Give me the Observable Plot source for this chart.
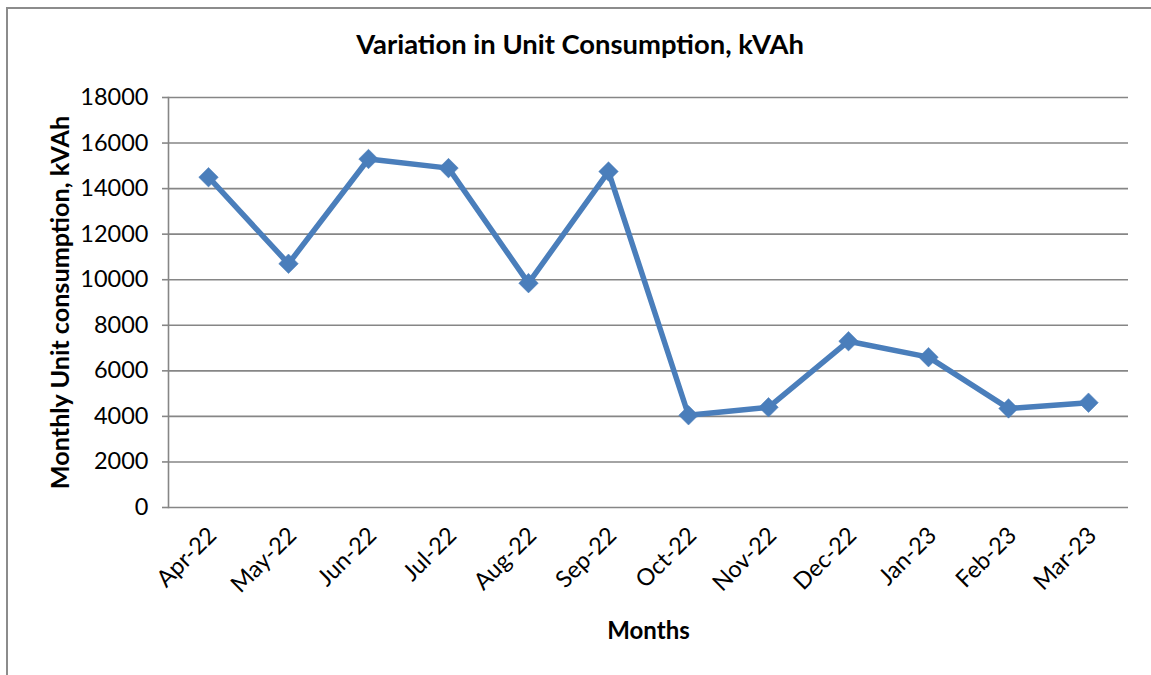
<!DOCTYPE html>
<html><head><meta charset="utf-8">
<script src="https://cdn.jsdelivr.net/npm/d3@7"></script>
<script src="https://cdn.jsdelivr.net/npm/@observablehq/plot@0.6"></script>
<style>
body{margin:0;background:#fff;overflow:hidden;}
#frame{position:absolute;left:6px;top:7px;width:1200px;height:700px;border:2px solid #8c8c8c;box-sizing:border-box;}
#title{position:absolute;left:0;width:1160px;top:27px;text-align:center;font-family:Lato,sans-serif;font-weight:bold;font-size:27.4px;color:#000;}
#chart{position:absolute;left:0;top:0;}
</style></head><body>
<div id="frame"></div>
<div id="chart"></div>
<div id="title">Variation in Unit Consumption, kVAh</div>
<script>
const months = ["Apr-22","May-22","Jun-22","Jul-22","Aug-22","Sep-22","Oct-22","Nov-22","Dec-22","Jan-23","Feb-23","Mar-23"];
const consumption = [14500,10700,15300,14900,9850,14750,4050,4400,7300,6600,4350,4600];
const yTicks = [0,2000,4000,6000,8000,10000,12000,14000,16000,18000];
const yLabel = "Monthly Unit consumption, kVAh";
const xLabel = "Months";

const data = months.map((m,i)=>({month:m, value:consumption[i]}));
const blue = "#4a7ebb";
const grey = "#868686";

const plot = Plot.plot({
  width:1151, height:675,
  marginLeft:168, marginRight:23, marginTop:97, marginBottom:168,
  style:{fontFamily:"Lato, sans-serif", fontSize:"23px", color:"#000", background:"transparent", overflow:"visible"},
  x:{type:"point", domain:months, padding:0.5},
  y:{domain:[0,18000]},
  marks:[
    Plot.gridY(yTicks,{stroke:grey, strokeOpacity:1, strokeWidth:1.6}),
    Plot.frame({anchor:"left", stroke:grey, strokeWidth:1.6}),
    Plot.axisY(yTicks,{tickSize:6, tickPadding:14, stroke:grey, strokeWidth:1.6, tickFormat:d=>String(d), fontSize:23.5, label:null}),
    Plot.axisX({tickRotate:-45, tickSize:0, tickPadding:24, dx:4, fontSize:23.5, label:null}),
    Plot.text([yLabel],{frameAnchor:"left", dx:-108, rotate:-90, textAnchor:"middle", fontWeight:"bold", fontSize:25.2}),
    Plot.text([xLabel],{frameAnchor:"bottom", dy:131, fontWeight:"bold", fontSize:24}),
    Plot.line(data,{x:"month", y:"value", stroke:blue, strokeWidth:5.5}),
    Plot.dot(data,{x:"month", y:"value", symbol:"square", r:7.8, rotate:45, fill:blue, stroke:blue, strokeWidth:0.5})
  ]
});
document.getElementById("chart").appendChild(plot);
</script>
</body></html>
